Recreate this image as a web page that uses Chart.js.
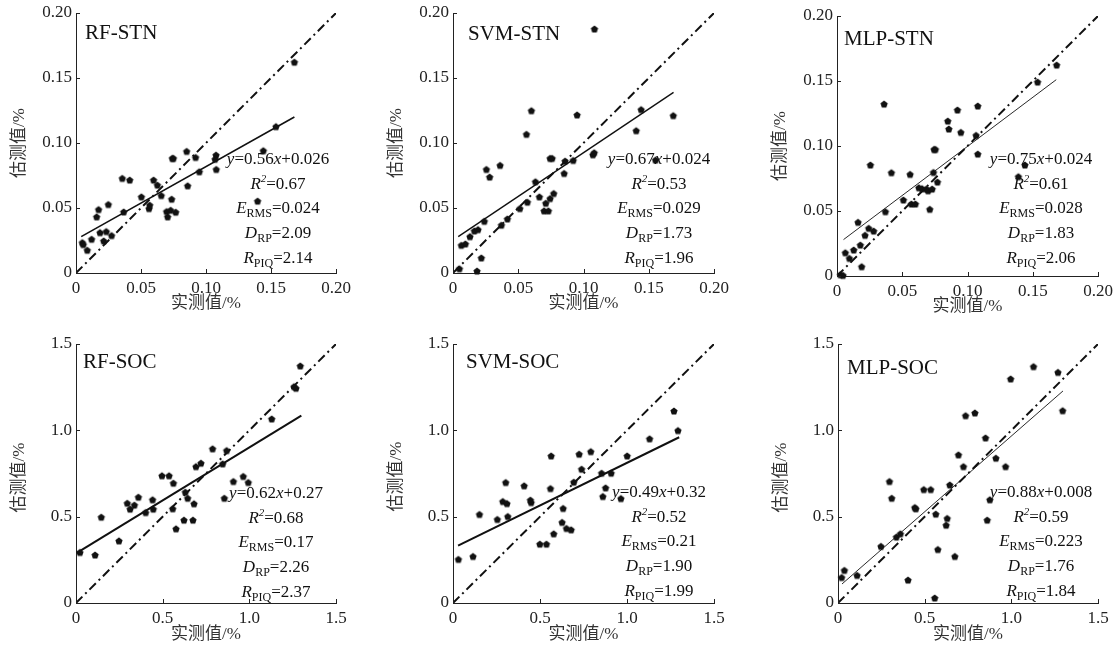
<!DOCTYPE html>
<html>
<head>
<meta charset="utf-8">
<script src="https://cdn.jsdelivr.net/npm/chart.js@4.4.1/dist/chart.umd.min.js"></script>
<style>
  body { margin: 0; background: #fff; }
  #wrap { position: relative; width: 1117px; height: 646px; overflow: hidden; }
  #wrap canvas { position: absolute; }
</style>
</head>
<body>
<div id="wrap"></div>
<script>
// ---- data ----
const stnTicks = ['0', '0.05', '0.10', '0.15', '0.20'];
const socTicks = ['0', '0.5', '1.0', '1.5'];

const rfStnX = [0.0049,0.0056,0.0087,0.012,0.0159,0.0174,0.0185,0.0213,0.0233,0.0249,0.0274,0.0356,0.0367,0.0413,0.0503,0.0562,0.0567,0.0597,0.0626,0.0656,0.0697,0.0705,0.0728,0.0736,0.0741,0.0749,0.0767,0.0851,0.0859,0.092,0.0949,0.1077,0.1079,0.1441,0.1397,0.1538,0.168,0.107];
const rfStnY = [0.0234,0.0219,0.0175,0.026,0.0432,0.0488,0.0311,0.0247,0.0319,0.0527,0.0288,0.0728,0.047,0.0715,0.0586,0.0496,0.0522,0.0715,0.0676,0.0596,0.0473,0.0432,0.0483,0.0568,0.0882,0.0882,0.0468,0.0936,0.0671,0.0889,0.0779,0.0907,0.0797,0.0941,0.0553,0.1126,0.1622,0.0875];

const svmStnX = [0.0049,0.0064,0.0095,0.013,0.0164,0.0192,0.0184,0.0217,0.024,0.0256,0.0281,0.0361,0.0371,0.0417,0.0512,0.0563,0.057,0.0601,0.0632,0.0662,0.0698,0.0711,0.0731,0.0744,0.0744,0.076,0.0772,0.0852,0.0859,0.0921,0.0951,0.1072,0.1082,0.1084,0.1404,0.1442,0.1552,0.1688];
const svmStnY = [0.0033,0.0213,0.0224,0.028,0.0324,0.0334,0.0015,0.0116,0.0398,0.0797,0.0738,0.0828,0.0368,0.0416,0.0496,0.1067,0.0545,0.1249,0.0702,0.0586,0.0478,0.0537,0.0478,0.0573,0.0882,0.0882,0.0612,0.0766,0.0861,0.0866,0.1216,0.091,0.0925,0.1877,0.1095,0.1257,0.0869,0.1211];

const mlpStnX = [0.0026,0.0046,0.0064,0.0095,0.0128,0.0161,0.0179,0.0189,0.0215,0.0243,0.0256,0.0281,0.0361,0.0371,0.0417,0.0509,0.056,0.057,0.0601,0.0627,0.0652,0.0685,0.0698,0.0711,0.0729,0.0739,0.0744,0.0754,0.077,0.0849,0.0857,0.0923,0.0949,0.1066,0.1079,0.1079,0.139,0.144,0.1537,0.1683];
const mlpStnY = [0.001,0.0005,0.0179,0.0136,0.02,0.0413,0.0238,0.0072,0.0313,0.0367,0.0854,0.0346,0.1323,0.0495,0.0795,0.0585,0.0782,0.0554,0.0554,0.0679,0.0672,0.0669,0.0656,0.0513,0.0669,0.0797,0.0974,0.0974,0.0723,0.1192,0.1131,0.1277,0.1105,0.1082,0.1308,0.0938,0.0764,0.0854,0.1492,0.1623];

const rfSocX = [0.023,0.11,0.146,0.248,0.296,0.312,0.337,0.36,0.402,0.442,0.446,0.496,0.537,0.562,0.558,0.577,0.623,0.631,0.644,0.675,0.681,0.692,0.721,0.788,0.846,0.856,0.869,0.908,0.965,0.994,1.129,1.258,1.269,1.294];
const rfSocY = [0.293,0.278,0.497,0.36,0.578,0.544,0.567,0.613,0.524,0.598,0.544,0.737,0.737,0.694,0.546,0.43,0.48,0.642,0.607,0.48,0.575,0.79,0.81,0.893,0.806,0.607,0.883,0.704,0.733,0.698,1.066,1.253,1.244,1.373];

const svmSocX = [0.031,0.115,0.152,0.255,0.303,0.315,0.286,0.31,0.409,0.445,0.449,0.499,0.537,0.564,0.56,0.579,0.627,0.633,0.652,0.679,0.694,0.725,0.739,0.792,0.854,0.861,0.877,0.909,0.965,1.001,1.13,1.27,1.293];
const svmSocY = [0.253,0.27,0.513,0.484,0.698,0.501,0.588,0.576,0.679,0.596,0.582,0.341,0.341,0.852,0.663,0.401,0.467,0.548,0.432,0.424,0.7,0.862,0.775,0.877,0.752,0.617,0.667,0.752,0.605,0.852,0.951,1.112,0.999];

const mlpSocX = [0.021,0.037,0.11,0.248,0.297,0.31,0.337,0.36,0.404,0.443,0.449,0.495,0.535,0.558,0.564,0.576,0.624,0.63,0.645,0.674,0.695,0.724,0.736,0.79,0.851,0.861,0.876,0.911,0.967,0.996,1.128,1.269,1.296];
const mlpSocY = [0.148,0.189,0.16,0.328,0.704,0.607,0.382,0.401,0.133,0.553,0.546,0.657,0.657,0.029,0.515,0.31,0.451,0.49,0.684,0.27,0.858,0.79,1.085,1.101,0.956,0.48,0.598,0.839,0.79,1.298,1.369,1.336,1.114];

// fitted line end points [x1, x2], [y1, y2]
const rfStnFitX = [0.004, 0.168], rfStnFitY = [0.028, 0.120];
const svmStnFitX = [0.004, 0.169], svmStnFitY = [0.028, 0.139];
const mlpStnFitX = [0.005, 0.168], mlpStnFitY = [0.028, 0.151];
const rfSocFitX = [0.005, 1.30], rfSocFitY = [0.29, 1.085];
const svmSocFitX = [0.029, 1.30], svmSocFitY = [0.332, 0.96];
const mlpSocFitX = [0.023, 1.298], mlpSocFitY = [0.11, 1.228];

const panelNames = ['RF-STN', 'SVM-STN', 'MLP-STN', 'RF-SOC', 'SVM-SOC', 'MLP-SOC'];
const fitSlope = ['0.56', '0.67', '0.75', '0.62', '0.49', '0.88'];
const fitIntercept = ['0.026', '0.024', '0.024', '0.27', '0.32', '0.008'];
const r2Vals = ['0.67', '0.53', '0.61', '0.68', '0.52', '0.59'];
const ermsVals = ['0.024', '0.029', '0.028', '0.17', '0.21', '0.223'];
const drpVals = ['2.09', '1.73', '1.83', '2.26', '1.90', '1.76'];
const rpiqVals = ['2.14', '1.96', '2.06', '2.37', '1.99', '1.84'];

// ---- layout (page px) ----
const boxes = [[76,13,260,260],[453,13,261,260],[837,16,261,260],[76,344,260,259],[453,344,261,259],[838,344,260,259]];
const titleOff = [[9,26],[15,27],[7,29],[7,24],[13,24],[9,30]];
const statsOff = [[202,151],[206,151],[204,148],[200,154],[206,153],[203,153]];
const axisTitleOff = [[31,0],[31,0],[31,0],[32,4],[32,3],[32,4]];
const fitWidth = [1.6, 1.4, 0.9, 2, 2, 0.9];

const SERIF = '"Liberation Serif", "Times New Roman", serif';
const CJK = '"Liberation Serif", "Noto Sans CJK SC", serif';

// pentagon marker
function pentagon(r) {
  const c = document.createElement('canvas');
  const s = Math.ceil(r * 2 + 2);
  c.width = s; c.height = s;
  const g = c.getContext('2d');
  g.fillStyle = '#111';
  g.beginPath();
  for (let i = 0; i < 5; i++) {
    const a = -Math.PI / 2 + i * 2 * Math.PI / 5;
    const px = s / 2 + r * Math.cos(a), py = s / 2 + r * Math.sin(a) + 0.4;
    if (i === 0) g.moveTo(px, py); else g.lineTo(px, py);
  }
  g.closePath();
  g.fill();
  return c;
}
const marker = pentagon(3.8);

function richLine(ctx, segs, cx, y) {
  let w = 0;
  segs.forEach(s => {
    ctx.font = s.f;
    s.w = ctx.measureText(s.t).width;
    w += s.w;
  });
  let x = cx - w / 2;
  segs.forEach(s => {
    ctx.font = s.f;
    ctx.fillText(s.t, x, y + (s.dy || 0));
    x += s.w;
  });
}

const panelPlugin = {
  id: 'panelDeco',
  afterDraw(chart) {
    const ctx = chart.ctx;
    const a = chart.chartArea;
    const i = chart.options.plugins.panelDeco.idx;
    const xs = chart.scales.x, ys = chart.scales.y;
    ctx.save();
    // inward ticks
    ctx.strokeStyle = '#222';
    ctx.lineWidth = 1;
    ctx.beginPath();
    xs.ticks.forEach(t => {
      const px = Math.round(xs.getPixelForValue(t.value)) + 0.5;
      ctx.moveTo(px, a.bottom); ctx.lineTo(px, a.bottom - 4);
    });
    ys.ticks.forEach(t => {
      const py = Math.round(ys.getPixelForValue(t.value)) + 0.5;
      ctx.moveTo(a.left, py); ctx.lineTo(a.left + 4, py);
    });
    ctx.stroke();

    ctx.fillStyle = '#111';
    ctx.textBaseline = 'alphabetic';
    ctx.textAlign = 'left';
    // panel title
    ctx.font = '21px ' + SERIF;
    ctx.fillText(panelNames[i], a.left + titleOff[i][0], a.top + titleOff[i][1]);

    // statistics
    const it = '17px ' + SERIF, itI = 'italic 17px ' + SERIF;
    const sub = '12px ' + SERIF, supI = 'italic 11px ' + SERIF;
    const cx = a.left + statsOff[i][0];
    let y = a.top + statsOff[i][1];
    const gap = 24.7;
    richLine(ctx, [{t: 'y', f: itI}, {t: '=' + fitSlope[i], f: it}, {t: 'x', f: itI}, {t: '+' + fitIntercept[i], f: it}], cx, y);
    y += gap;
    richLine(ctx, [{t: 'R', f: itI}, {t: '2', f: supI, dy: -7}, {t: '=' + r2Vals[i], f: it}], cx, y);
    y += gap;
    richLine(ctx, [{t: 'E', f: itI}, {t: 'RMS', f: sub, dy: 4}, {t: '=' + ermsVals[i], f: it}], cx, y);
    y += gap;
    richLine(ctx, [{t: 'D', f: itI}, {t: 'RP', f: sub, dy: 4}, {t: '=' + drpVals[i], f: it}], cx, y);
    y += gap;
    richLine(ctx, [{t: 'R', f: itI}, {t: 'PIQ', f: sub, dy: 4}, {t: '=' + rpiqVals[i], f: it}], cx, y);

    // axis titles
    ctx.fillStyle = '#333';
    ctx.font = '17px ' + CJK;
    ctx.textAlign = 'center';
    ctx.textBaseline = 'middle';
    ctx.fillText('实测值/%', (a.left + a.right) / 2, a.bottom + axisTitleOff[i][0]);
    ctx.translate(a.left - 56, (a.top + a.bottom) / 2 + axisTitleOff[i][1]);
    ctx.rotate(-Math.PI / 2);
    ctx.fillText('估测值/%', 0, 0);
    ctx.restore();
  }
};

const sets = [
  [rfStnX, rfStnY, rfStnFitX, rfStnFitY, 0.2, 0.05, stnTicks],
  [svmStnX, svmStnY, svmStnFitX, svmStnFitY, 0.2, 0.05, stnTicks],
  [mlpStnX, mlpStnY, mlpStnFitX, mlpStnFitY, 0.2, 0.05, stnTicks],
  [rfSocX, rfSocY, rfSocFitX, rfSocFitY, 1.5, 0.5, socTicks],
  [svmSocX, svmSocY, svmSocFitX, svmSocFitY, 1.5, 0.5, socTicks],
  [mlpSocX, mlpSocY, mlpSocFitX, mlpSocFitY, 1.5, 0.5, socTicks]
];

const PAD_L = 70, PAD_T = 20, PAD_R = 20, PAD_B = 50;
const wrap = document.getElementById('wrap');

sets.forEach((s, i) => {
  const [xs, ys, fx, fy, max, step, labels] = s;
  const b = boxes[i];
  const cv = document.createElement('canvas');
  const W = b[2] + PAD_L + PAD_R, H = b[3] + PAD_T + PAD_B;
  cv.width = W; cv.height = H;
  cv.style.left = (b[0] - PAD_L) + 'px';
  cv.style.top = (b[1] - PAD_T) + 'px';
  cv.style.width = W + 'px';
  cv.style.height = H + 'px';
  wrap.appendChild(cv);

  const tickOpts = {
    color: '#222',
    font: {family: SERIF, size: 17},
    padding: 4,
    stepSize: step,
    autoSkip: false,
    maxRotation: 0,
    callback: (v, k) => labels[k]
  };

  new Chart(cv, {
    type: 'scatter',
    data: {
      datasets: [
        {
          data: xs.map((x, k) => ({x: x, y: ys[k]})),
          pointStyle: marker,
          pointRadius: 4,
          clip: false
        },
        {
          type: 'line',
          data: fx.map((x, k) => ({x: x, y: fy[k]})),
          borderColor: '#111',
          borderWidth: fitWidth[i],
          pointRadius: 0,
          fill: false
        },
        {
          type: 'line',
          data: [{x: 0, y: 0}, {x: max, y: max}],
          borderColor: '#111',
          borderWidth: 2,
          borderDash: [9, 4, 2, 4],
          pointRadius: 0,
          fill: false
        }
      ]
    },
    options: {
      responsive: false,
      animation: false,
      events: [],
      layout: {padding: {left: 0, top: PAD_T, right: PAD_R, bottom: 0}},
      plugins: {legend: {display: false}, tooltip: {enabled: false}, panelDeco: {idx: i}},
      scales: {
        x: {
          type: 'linear', min: 0, max: max,
          grid: {display: false, drawTicks: false},
          border: {display: true, color: '#222', width: 1},
          ticks: Object.assign({}, tickOpts, {padding: 5}),
          afterFit: sc => { sc.height = PAD_B; }
        },
        y: {
          type: 'linear', min: 0, max: max,
          grid: {display: false, drawTicks: false},
          border: {display: true, color: '#222', width: 1},
          ticks: tickOpts,
          afterFit: sc => { sc.width = PAD_L; }
        }
      }
    },
    plugins: [panelPlugin]
  });
});
</script>
</body>
</html>
